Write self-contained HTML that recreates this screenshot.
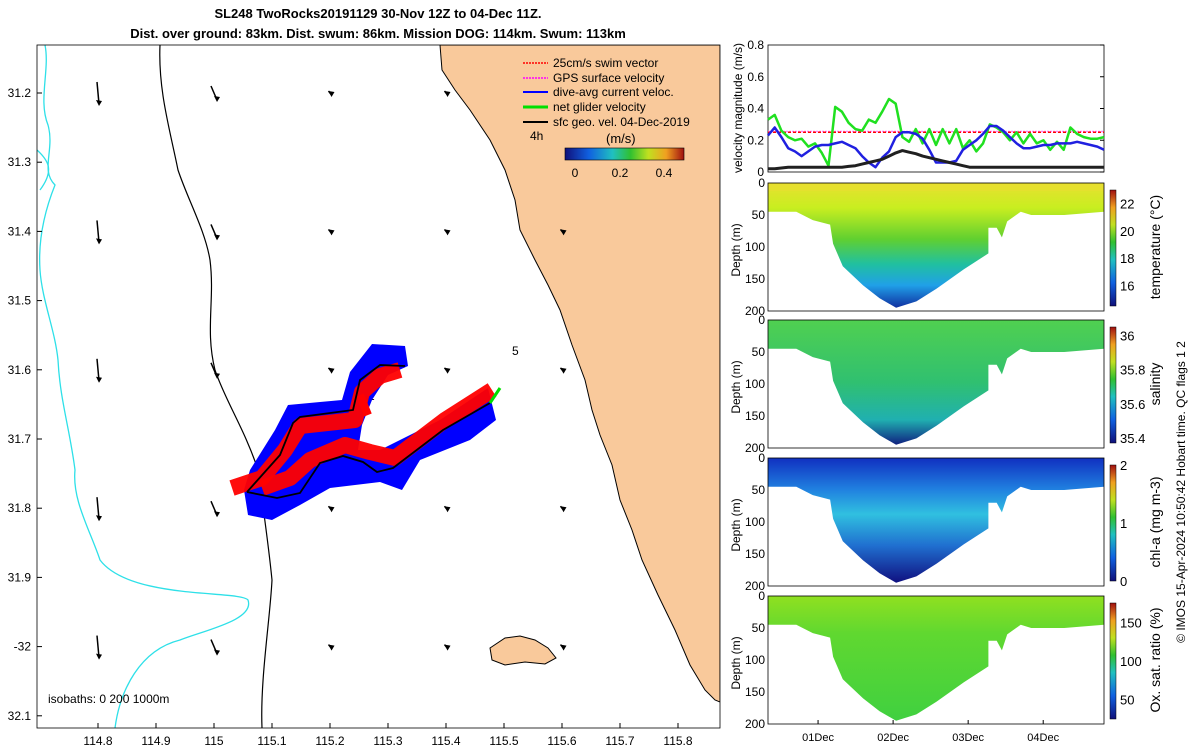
<!DOCTYPE html>
<html><head><meta charset="utf-8"><style>
body{margin:0;background:#fff;width:1200px;height:750px;overflow:hidden;font-family:"Liberation Sans",sans-serif}
svg text{font-family:"Liberation Sans",sans-serif}
</style></head><body>
<svg id="s" width="1200" height="750" viewBox="0 0 1200 750" xmlns="http://www.w3.org/2000/svg">
<defs>
<linearGradient id="gT" x1="0" y1="0" x2="0" y2="1"><stop offset="0" stop-color="#e8e030"/><stop offset="0.2" stop-color="#c8ee20"/><stop offset="0.45" stop-color="#60d030"/><stop offset="0.65" stop-color="#20c0a0"/><stop offset="0.82" stop-color="#20a0e8"/><stop offset="1" stop-color="#1030a0"/></linearGradient>
<linearGradient id="gS" x1="0" y1="0" x2="0" y2="1"><stop offset="0" stop-color="#50d050"/><stop offset="0.5" stop-color="#30c070"/><stop offset="0.8" stop-color="#20b0b0"/><stop offset="1" stop-color="#102080"/></linearGradient>
<linearGradient id="gC" x1="0" y1="0" x2="0" y2="1"><stop offset="0" stop-color="#1030c0"/><stop offset="0.25" stop-color="#2080e0"/><stop offset="0.45" stop-color="#30c0e0"/><stop offset="0.7" stop-color="#2070d0"/><stop offset="1" stop-color="#101080"/></linearGradient>
<linearGradient id="gO" x1="0" y1="0" x2="0" y2="1"><stop offset="0" stop-color="#90e020"/><stop offset="0.3" stop-color="#60d830"/><stop offset="1" stop-color="#40d040"/></linearGradient>
<linearGradient id="cbJet" x1="0" y1="1" x2="0" y2="0"><stop offset="0" stop-color="#10107a"/><stop offset="0.2" stop-color="#1060e0"/><stop offset="0.4" stop-color="#20c0c0"/><stop offset="0.55" stop-color="#30c030"/><stop offset="0.7" stop-color="#c0e020"/><stop offset="0.85" stop-color="#f0a020"/><stop offset="1" stop-color="#a01010"/></linearGradient>
<linearGradient id="cbH" x1="0" y1="0" x2="1" y2="0"><stop offset="0" stop-color="#10107a"/><stop offset="0.2" stop-color="#1060e0"/><stop offset="0.4" stop-color="#20c0c0"/><stop offset="0.55" stop-color="#30c030"/><stop offset="0.7" stop-color="#c0e020"/><stop offset="0.85" stop-color="#f0a020"/><stop offset="1" stop-color="#a01010"/></linearGradient>
<clipPath id="mapClip"><rect x="37" y="45" width="683" height="683"/></clipPath>
</defs>
<text x="378" y="18" text-anchor="middle" font-size="13" font-weight="bold">SL248 TwoRocks20191129 30-Nov 12Z to 04-Dec 11Z.</text>
<text x="378" y="38" text-anchor="middle" font-size="13" font-weight="bold">Dist. over ground: 83km. Dist. swum: 86km. Mission DOG: 114km. Swum: 113km</text>
<g id="map" clip-path="url(#mapClip)">
<polygon fill="#f9c99b" stroke="#000" stroke-width="1" points="440,45 442,70 455,90 470,110 490,140 505,170 515,200 520,230 535,260 548,285 560,310 572,345 585,380 592,410 600,435 612,465 620,500 632,530 642,560 658,595 675,630 690,665 705,690 715,700 720,702 720,45"/>
<polygon fill="#f9c99b" stroke="#000" stroke-width="1" points="490,648 505,638 520,636 535,640 548,648 556,658 545,664 525,662 505,665 492,660"/>
<path fill="none" stroke="#000" stroke-width="1.2" d="M160,45 C158,90 170,130 178,170 C188,200 205,230 210,260 C215,300 205,330 215,370 C225,400 245,430 258,470 C262,500 268,540 272,580 C270,620 260,680 262,728"/>
<path fill="none" stroke="#2ee0e8" stroke-width="1.3" d="M45,45 C50,70 38,100 48,125 C55,150 40,170 55,185 C45,210 38,240 40,270 C42,300 55,330 58,360 C60,400 70,430 75,470 C72,500 90,530 100,560 C130,600 240,590 248,600 C255,620 205,630 180,640 C140,650 120,690 115,728"/>
<path d="M37,150 C48,160 55,170 40,190" fill="none" stroke="#2ee0e8" stroke-width="1.3"/>
</g>
<rect x="37" y="45" width="683" height="683" fill="none" stroke="#000" stroke-width="0.8"/>
<g id="mapAxes" font-size="12"></g>
<text x="48" y="703" font-size="12">isobaths: 0   200   1000m</text>
<text x="512" y="355" font-size="12">5</text>
<text x="368" y="400" font-size="12">1</text>
<g id="track">
<polygon fill="#0000ff" points="250,470 275,430 288,405 320,402 342,400 350,372 372,344 405,346 408,366 388,375 372,400 362,425 358,450 380,450 440,420 488,388 496,420 470,440 420,460 402,490 380,482 330,488 300,505 272,520 248,515 244,490"/>
<polyline fill="none" stroke="#ff0000" stroke-width="16" stroke-linejoin="round" opacity="0.95" points="232,488 262,478 285,450 300,426 355,420 362,392 380,376 400,370"/>
<polyline fill="none" stroke="#ff0000" stroke-width="16" stroke-linejoin="round" opacity="0.95" points="262,488 290,478 310,460 345,445 370,452 395,458 445,420 492,390"/>
<polyline fill="none" stroke="#ff0000" stroke-width="8" points="360,395 368,415"/>
<polyline fill="none" stroke="#000" stroke-width="1.8" points="247,492 277,498 300,493 320,463 343,456 363,462 377,472 393,468 443,430 490,403"/>
<polyline fill="none" stroke="#000" stroke-width="1.8" points="247,492 280,455 293,423 300,417 353,410 360,380 380,365 405,366"/>
<line x1="490" y1="403" x2="500" y2="388" stroke="#00e000" stroke-width="3"/>
</g>
<g id="legend" font-size="12">
<line x1="523" y1="63" x2="548" y2="63" stroke="#ff0000" stroke-width="1.5" stroke-dasharray="2,1"/><text x="553" y="67">25cm/s swim vector</text>
<line x1="523" y1="78" x2="548" y2="78" stroke="#ff00ff" stroke-width="1.5" stroke-dasharray="2,1"/><text x="553" y="82">GPS surface velocity</text>
<line x1="523" y1="92" x2="548" y2="92" stroke="#0000ff" stroke-width="2"/><text x="553" y="96">dive-avg current veloc.</text>
<line x1="523" y1="107" x2="548" y2="107" stroke="#00e000" stroke-width="3"/><text x="553" y="111">net glider velocity</text>
<line x1="523" y1="122" x2="548" y2="122" stroke="#000" stroke-width="2"/><text x="553" y="126">sfc geo. vel. 04-Dec-2019</text>
<text x="530" y="140">4h</text>
<text x="606" y="143" font-size="13">(m/s)</text>
</g>
<rect x="565" y="148" width="119" height="12" fill="url(#cbH)" stroke="#000" stroke-width="0.6"/>
<g font-size="12" text-anchor="middle"><text x="575" y="177">0</text><text x="620" y="177">0.2</text><text x="664" y="177">0.4</text></g>
<g id="vel"></g>
<g id="sections"></g>
<text transform="translate(1185,492) rotate(-90)" text-anchor="middle" font-size="12">© IMOS 15-Apr-2024 10:50:42 Hobart time. QC flags 1  2</text>
</svg>
<script>
// ---------- data ----------
const mapXTicks=[114.8,114.9,115,115.1,115.2,115.3,115.4,115.5,115.6,115.7,115.8];
const mapXLabels=["114.8","114.9","115","115.1","115.2","115.3","115.4","115.5","115.6","115.7","115.8"];
const mapYTicks=[31.2,31.3,31.4,31.5,31.6,31.7,31.8,31.9,32.0,32.1];
const mapYLabels=["31.2","31.3","31.4","31.5","31.6","31.7","31.8","31.9","-32","32.1"];
const arrowLon=[114.8,115.0,115.2,115.4,115.6];
const arrowLat=[31.2,31.4,31.6,31.8,32.0];
const velGreen=[.33,.36,.26,.22,.20,.21,.16,.18,.12,.04,.41,.38,.31,.27,.26,.33,.31,.38,.46,.43,.22,.19,.27,.18,.27,.17,.27,.18,.27,.15,.20,.13,.18,.30,.28,.25,.20,.25,.18,.24,.18,.20,.14,.19,.14,.28,.24,.22,.21,.21,.22];
const velBlue=[.23,.28,.22,.15,.13,.10,.13,.16,.17,.17,.18,.19,.17,.15,.10,.06,.03,.09,.13,.22,.25,.25,.24,.21,.14,.06,.06,.06,.07,.14,.17,.20,.24,.29,.29,.26,.22,.18,.15,.15,.16,.17,.17,.18,.18,.18,.19,.18,.17,.16,.14];
const velBlack=[.02,.02,.025,.03,.03,.03,.03,.03,.03,.03,.03,.03,.035,.04,.05,.06,.07,.08,.10,.12,.135,.125,.115,.10,.09,.08,.07,.06,.05,.04,.03,.03,.03,.03,.03,.03,.03,.03,.03,.03,.03,.03,.03,.03,.03,.03,.03,.03,.03,.03,.03];
const velSwim=0.25;
const velYTicks=[0,0.2,0.4,0.6,0.8];
const dayTicks=[0,1,2,3];
const dayLabels=["01Dec","02Dec","03Dec","04Dec"];
const depthTicks=[0,50,100,150,200];
const outlineT=[-0.667,-0.29,-0.07,0.16,0.2,0.33,0.6,0.82,1.04,1.31,1.58,1.94,2.27,2.27,2.38,2.45,2.52,2.7,2.84,3.28,3.81];
const outlineD=[45,45,58,65,95,130,160,180,195,185,165,135,110,70,70,85,60,45,50,50,45];
const tempTicks=[16,18,20,22], tempRange=[14.5,23];
const salTicks=[35.4,35.6,35.8,36], salRange=[35.37,36.05];
const chlTicks=[0,1,2], chlRange=[0,2];
const oxTicks=[50,100,150], oxRange=[25,175];

const NS="http://www.w3.org/2000/svg";
function mk(tag,attrs,parent,txt){const e=document.createElementNS(NS,tag);for(const k in attrs)e.setAttribute(k,attrs[k]);if(txt!==undefined)e.textContent=txt;parent.appendChild(e);return e;}
// map axes
const lonX=v=>98+(v-114.8)*580, latY=v=>93+(v-31.2)*692;
const ma=document.getElementById('mapAxes');
mapXTicks.forEach((v,i)=>{const t=mk('text',{x:lonX(v),y:745,'text-anchor':'middle'},ma,mapXLabels[i]);


mk('line',{x1:lonX(v),y1:728,x2:lonX(v),y2:723,stroke:'#000'},ma);});
mapYTicks.forEach((v,i)=>{const t=mk('text',{x:31,y:latY(v)+4,'text-anchor':'end'},ma,mapYLabels[i]);


mk('line',{x1:37,y1:latY(v),x2:42,y2:latY(v),stroke:'#000'},ma);});
arrowLon.forEach((lo,i)=>arrowLat.forEach((la,j)=>{if(i==4&&j==0)return;const x=lonX(lo),y=latY(la);const L=i==0?22:(i==1?14:4);const dx=i==0?2:(i==1?6:3),dy=L;
const g=mk('g',{},ma);


mk('line',{x1:x-dx/2,y1:y-dy/2,x2:x+dx/2,y2:y+dy/2,stroke:'#000','stroke-width':1.5},g);
mk('polygon',{points:`${x+dx/2},${y+dy/2+2} ${x+dx/2-3},${y+dy/2-4} ${x+dx/2+3},${y+dy/2-3}`,fill:'#000'},g);}));
// velocity panel
const VX0=768,VX1=1104,T0=-0.667,T1=3.81;
const tx=t=>VX0+(t-T0)/(T1-T0)*(VX1-VX0);
const vy=v=>172-v/0.8*127;
const vel=document.getElementById('vel');
mk('rect',{x:VX0,y:45,width:VX1-VX0,height:127,fill:'none',stroke:'#000','stroke-width':0.8},vel);
velYTicks.forEach(v=>{const t=mk('text',{x:VX0-4,y:vy(v)+4,'text-anchor':'end','font-size':12},vel,String(v));


mk('line',{x1:VX1,y1:vy(v),x2:VX1-4,y2:vy(v),stroke:'#000'},vel);});
const yl=mk('text',{transform:'translate(742,108) rotate(-90)','text-anchor':'middle','font-size':12},vel,'velocity magnitude (m/s)');


const ti=i=>T0+i*(T1-T0)/(velGreen.length-1);
function line(arr,col,w,name,dash){const p=arr.map((v,i)=>tx(ti(i)).toFixed(1)+','+vy(v).toFixed(1)).join(' ');
const e=mk('polyline',{points:p,fill:'none',stroke:col,'stroke-width':w,'stroke-linejoin':'round'},vel);if(dash)e.setAttribute('stroke-dasharray',dash);

}
line(velGreen.map(()=>velSwim+0.005),'#ff80ff',1.5,'gps-surface-velocity-line','2,1');
line(velGreen.map(()=>velSwim),'#ff0000',1.5,'swim-vector-line','3,2');
line(velGreen,'#20e020',2.5,'net-glider-velocity-line');
line(velBlue,'#2020e0',2.5,'dive-avg-current-line');
line(velBlack,'#202020',3,'sfc-geo-velocity-line');
// sections
const sec=document.getElementById('sections');
const panels=[{y:183,grad:'gT',ticks:tempTicks,range:tempRange,label:'temperature (°C)',name:'temperature'},
{y:320,grad:'gS',ticks:salTicks,range:salRange,label:'salinity',name:'salinity'},
{y:458,grad:'gC',ticks:chlTicks,range:chlRange,label:'chl-a (mg m-3)',name:'chlorophyll'},
{y:596,grad:'gO',ticks:oxTicks,range:oxRange,label:'Ox. sat. ratio (%)',name:'oxygen'}];
panels.forEach((P,k)=>{const H=128,dy=d=>P.y+d/200*H;
const g=mk('g',{},sec);


let pts=[tx(T0)+','+dy(0),tx(T1)+','+dy(0)];
for(let i=outlineT.length-1;i>=0;i--)pts.push(tx(outlineT[i]).toFixed(1)+','+dy(outlineD[i]).toFixed(1));
mk('polygon',{points:pts.join(' '),fill:'url(#'+P.grad+')'},g);
if(k==0){mk('rect',{x:VX0,y:dy(0),width:VX1-VX0,height:8,fill:'#e8e030',opacity:0.6},g);}
mk('rect',{x:VX0,y:P.y,width:VX1-VX0,height:H,fill:'none',stroke:'#000','stroke-width':0.8},g);
depthTicks.forEach(d=>{mk('text',{x:VX0-3,y:dy(d)+4,'text-anchor':'end','font-size':12},g,String(d));});
mk('text',{transform:`translate(740,${P.y+H/2+3}) rotate(-90)`,'text-anchor':'middle','font-size':12},g,'Depth (m)');
const cy0=P.y+7,cy1=P.y+H-5;const cv=v=>cy1-(v-P.range[0])/(P.range[1]-P.range[0])*(cy1-cy0);
mk('rect',{x:1110,y:cy0,width:6,height:cy1-cy0,fill:'url(#cbJet)',stroke:'#000','stroke-width':0.5},g);
P.ticks.forEach(v=>{mk('text',{x:1120,y:cv(v)+5,'font-size':13},g,String(v));});
mk('text',{transform:`translate(1160,${P.y+H/2}) rotate(-90)`,'text-anchor':'middle','font-size':14},g,P.label);
if(k==3){dayTicks.forEach((d,i)=>{mk('text',{x:tx(d),y:741,'text-anchor':'middle','font-size':11},g,dayLabels[i]);mk('line',{x1:tx(d),y1:dy(200),x2:tx(d),y2:dy(200)-4,stroke:'#000'},g);});}
});
</script>
</body></html>
